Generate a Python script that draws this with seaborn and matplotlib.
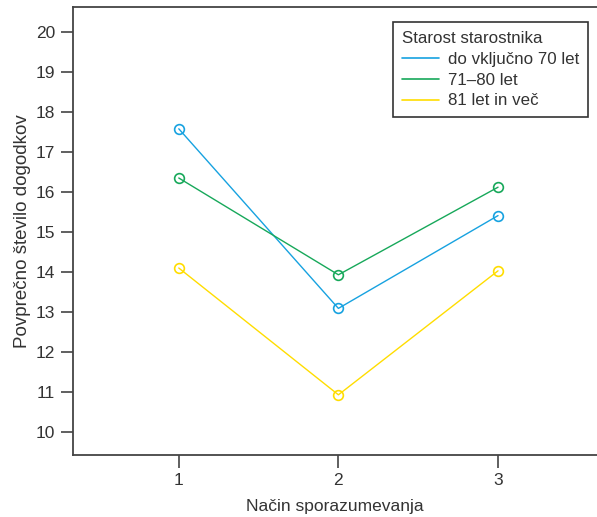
import numpy as np
import pandas as pd
import seaborn as sns
import matplotlib.pyplot as plt
from matplotlib.lines import Line2D

sns.set_theme(style="ticks")
plt.rcParams['font.family'] = ['Liberation Sans', 'DejaVu Sans']

# data
nacin = [1, 2, 3]
groups = ["do vključno 70 let", "71\u201380 let", "81 let in več"]
do70 = [17.58, 13.09, 15.41]
od71do80 = [16.35, 13.93, 16.12]
nad81 = [14.10, 10.93, 14.03]
colors = ["#17a2e0", "#17a85a", "#ffdd00"]

df = pd.DataFrame({
    "nacin": nacin * 3,
    "skupina": [g for g in groups for _ in nacin],
    "povprecje": do70 + od71do80 + nad81,
})

txt = "#333333"
fig = plt.figure(figsize=(5.97, 5.17), dpi=100)
ax = fig.add_axes([0.1223, 0.1199, 0.8777, 0.8666])

sns.lineplot(data=df, x="nacin", y="povprecje", hue="skupina", hue_order=groups,
             palette=colors, marker="o", markersize=7, markerfacecolor="none",
             linewidth=1.0, ax=ax, legend=False)
for ln in ax.lines:
    ln.set_markeredgecolor(ln.get_color())
    ln.set_markeredgewidth(1.2)

ax.set_xlim(0.3375, 3.62)
ax.set_ylim(9.425, 20.625)
ax.set_xticks(nacin)
ax.set_yticks(range(10, 21))
ax.tick_params(axis="both", direction="out", length=9, width=1.2, color="#444444",
               labelsize=12.5, labelcolor=txt, pad=4)

for s in ["left", "top", "bottom"]:
    ax.spines[s].set_color("#444444")
    ax.spines[s].set_linewidth(1.3)
ax.spines["right"].set_visible(False)

ax.set_xlabel("Način sporazumevanja", fontsize=12.5, color=txt, labelpad=8)
ax.set_ylabel("Povprečno število dogodkov", fontsize=13.5, color=txt, labelpad=3)

handles = [Line2D([0], [0], color=c, lw=1.2) for c in colors]
leg = ax.legend(handles, groups, title="Starost starostnika", loc="upper left",
                bbox_to_anchor=(0.611, 0.966), fontsize=12.2, title_fontsize=12.2,
                frameon=True, fancybox=False, edgecolor="#333333", framealpha=1,
                handlelength=2.2, handletextpad=0.55, borderpad=0.5, labelspacing=0.35,
                borderaxespad=0)
leg.get_frame().set_linewidth(1.2)
leg._legend_box.align = "left"
for t in leg.get_texts():
    t.set_color(txt)
leg.get_title().set_color(txt)

fig.savefig("out.png", dpi=100)
